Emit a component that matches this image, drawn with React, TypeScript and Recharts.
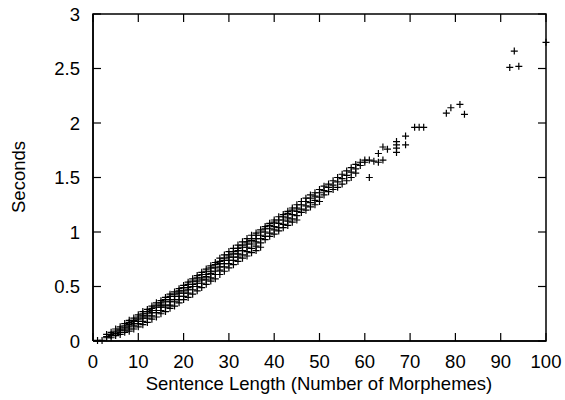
import { ScatterChart, Scatter, XAxis, YAxis } from 'recharts'

// sentence length (morphemes) vs. parse time (seconds)
const shortSentences: [number, number][] = [
  [1, 0.005], [2, 0.005],
  [3, 0.06], [3, 0.04], [3, 0.03],
  [4, 0.08], [4, 0.06], [4, 0.05], [4, 0.03],
  [5, 0.11], [5, 0.09], [5, 0.07], [5, 0.05],
  [6, 0.13], [6, 0.11], [6, 0.1], [6, 0.08], [6, 0.06],
  [7, 0.16], [7, 0.14], [7, 0.12], [7, 0.1], [7, 0.08],
  [8, 0.19], [8, 0.17], [8, 0.15], [8, 0.13], [8, 0.11], [8, 0.09],
  [9, 0.21], [9, 0.19], [9, 0.18], [9, 0.16], [9, 0.14], [9, 0.11],
  [10, 0.24], [10, 0.22], [10, 0.2], [10, 0.18], [10, 0.16], [10, 0.13],
  [11, 0.27], [11, 0.25], [11, 0.23], [11, 0.21], [11, 0.18], [11, 0.15],
  [12, 0.29], [12, 0.27], [12, 0.25], [12, 0.23], [12, 0.21], [12, 0.17],
  [13, 0.32], [13, 0.3], [13, 0.28], [13, 0.26], [13, 0.23], [13, 0.2],
  [14, 0.35], [14, 0.33], [14, 0.31], [14, 0.28], [14, 0.26], [14, 0.22],
  [15, 0.37], [15, 0.35], [15, 0.33], [15, 0.31], [15, 0.28], [15, 0.25],
]

const mediumSentences: [number, number][] = [
  [16, 0.4], [16, 0.38], [16, 0.36], [16, 0.33], [16, 0.31], [16, 0.27],
  [17, 0.43], [17, 0.41], [17, 0.38], [17, 0.36], [17, 0.33], [17, 0.3],
  [18, 0.45], [18, 0.43], [18, 0.41], [18, 0.38], [18, 0.36], [18, 0.32],
  [19, 0.48], [19, 0.46], [19, 0.44], [19, 0.41], [19, 0.38], [19, 0.35],
  [20, 0.51], [20, 0.49], [20, 0.46], [20, 0.44], [20, 0.41], [20, 0.38],
  [21, 0.54], [21, 0.52], [21, 0.49], [21, 0.47], [21, 0.44], [21, 0.4],
  [22, 0.57], [22, 0.55], [22, 0.52], [22, 0.5], [22, 0.47], [22, 0.43],
  [23, 0.6], [23, 0.58], [23, 0.55], [23, 0.53], [23, 0.5], [23, 0.46],
  [24, 0.63], [24, 0.61], [24, 0.58], [24, 0.56], [24, 0.53], [24, 0.49],
  [25, 0.66], [25, 0.64], [25, 0.61], [25, 0.59], [25, 0.56], [25, 0.52],
  [26, 0.69], [26, 0.67], [26, 0.64], [26, 0.62], [26, 0.58], [26, 0.55],
  [27, 0.72], [27, 0.7], [27, 0.67], [27, 0.64], [27, 0.61], [27, 0.57],
  [28, 0.76], [28, 0.73], [28, 0.71], [28, 0.68], [28, 0.65], [28, 0.61],
  [29, 0.79], [29, 0.76], [29, 0.74], [29, 0.71], [29, 0.68], [29, 0.64],
  [30, 0.82], [30, 0.79], [30, 0.77], [30, 0.74], [30, 0.71], [30, 0.67],
]

const longSentences: [number, number][] = [
  [31, 0.85], [31, 0.82], [31, 0.8], [31, 0.77], [31, 0.74], [31, 0.7],
  [32, 0.88], [32, 0.85], [32, 0.83], [32, 0.8], [32, 0.77], [32, 0.73],
  [33, 0.91], [33, 0.88], [33, 0.86], [33, 0.83], [33, 0.79], [33, 0.76],
  [34, 0.94], [34, 0.91], [34, 0.89], [34, 0.86], [34, 0.82], [34, 0.78],
  [35, 0.97], [35, 0.94], [35, 0.92], [35, 0.89], [35, 0.85], [35, 0.81],
  [36, 0.99], [36, 0.97], [36, 0.94], [36, 0.91], [36, 0.87], [36, 0.83],
  [37, 1.02], [37, 1.0], [37, 0.97], [37, 0.94], [37, 0.9], [37, 0.86],
  [38, 1.05], [38, 1.03], [38, 1.0], [38, 0.96], [38, 0.93],
  [39, 1.08], [39, 1.06], [39, 1.03], [39, 0.99], [39, 0.96],
  [40, 1.11], [40, 1.09], [40, 1.05], [40, 1.02], [40, 0.98],
  [41, 1.14], [41, 1.11], [41, 1.08], [41, 1.04], [41, 1.01],
  [42, 1.16], [42, 1.14], [42, 1.11], [42, 1.07], [42, 1.04],
  [43, 1.19], [43, 1.17], [43, 1.13], [43, 1.1], [43, 1.06],
  [44, 1.22], [44, 1.2], [44, 1.16], [44, 1.12], [44, 1.09],
  [45, 1.25], [45, 1.22], [45, 1.19], [45, 1.15], [45, 1.11],
]

const veryLongSentences: [number, number][] = [
  [46, 1.28], [46, 1.25], [46, 1.21], [46, 1.18],
  [47, 1.31], [47, 1.28], [47, 1.24], [47, 1.2],
  [48, 1.34], [48, 1.31], [48, 1.27], [48, 1.23],
  [49, 1.36], [49, 1.33], [49, 1.29], [49, 1.25],
  [50, 1.39], [50, 1.36], [50, 1.32], [50, 1.28],
  [51, 1.42], [51, 1.38], [51, 1.34],
  [52, 1.44], [52, 1.41], [52, 1.37],
  [53, 1.47], [53, 1.43], [53, 1.39],
  [54, 1.5], [54, 1.46], [54, 1.41],
  [55, 1.53], [55, 1.49], [55, 1.44],
  [56, 1.56], [56, 1.52], [56, 1.47],
  [57, 1.59], [57, 1.55], [57, 1.5],
  [58, 1.62], [58, 1.58], [58, 1.54],
  [59, 1.64], [59, 1.61],
  [60, 1.66], [60, 1.64],
  [61, 1.66], [61, 1.5],
  [62, 1.65],
  [63, 1.72], [63, 1.64],
  [64, 1.78], [64, 1.66],
  [65, 1.76],
  [67, 1.83], [67, 1.8], [67, 1.77], [67, 1.73],
  [69, 1.88], [69, 1.8],
  [71, 1.96], [72, 1.96], [73, 1.96],
  [78, 2.09], [79, 2.14], [81, 2.17], [82, 2.08],
  [92, 2.51], [93, 2.66], [94, 2.52],
  [100, 2.74],
]

const xTicks = [0, 10, 20, 30, 40, 50, 60, 70, 80, 90, 100]
const yTicks = [0, 0.5, 1, 1.5, 2, 2.5, 3]
const xRange = [0, 100]
const yRange = [0, 3]

const points = [...shortSentences, ...mediumSentences, ...longSentences, ...veryLongSentences].map(
  ([length, seconds]) => ({ length, seconds })
)

// plot border (gnuplot style box) and mirrored inward tick marks, placed through the chart scales
const border = [
  { length: xRange[0], seconds: yRange[0] },
  { length: xRange[1], seconds: yRange[0] },
  { length: xRange[1], seconds: yRange[1] },
  { length: xRange[0], seconds: yRange[1] },
  { length: xRange[0], seconds: yRange[0] },
]
const bottomMarks = xTicks.map((length) => ({ length, seconds: yRange[0] }))
const topMarks = xTicks.map((length) => ({ length, seconds: yRange[1] }))
const leftMarks = yTicks.map((seconds) => ({ length: xRange[0], seconds }))
const rightMarks = yTicks.map((seconds) => ({ length: xRange[1], seconds }))

const font = '"Liberation Sans", Arial, Helvetica, sans-serif'
const fontSize = 18.5
const tickStyle = { fill: '#000', fontSize, fontFamily: font }
const TICK = 8

const Plus = (props: any) => {
  const { cx, cy } = props
  if (cx == null || cy == null) return null
  return <path d={`M${cx - 3.5},${cy}h7M${cx},${cy - 3.5}v7`} stroke="#000" strokeWidth={1.2} fill="none" />
}

const mark = (dx: number, dy: number) => (props: any) => {
  const { cx, cy } = props
  if (cx == null || cy == null) return null
  return <line x1={cx} y1={cy} x2={cx + dx} y2={cy + dy} stroke="#000" strokeWidth={1.2} />
}

const Nothing = () => null

export default function App() {
  return (
    <div style={{ position: 'absolute', left: 0, top: 0, width: 565, height: 400, background: '#fff' }}>
      <ScatterChart width={565} height={400} margin={{ top: 14, right: 19, bottom: 0, left: 0 }}>
        <XAxis
          dataKey="length"
          type="number"
          domain={xRange}
          ticks={xTicks}
          height={59}
          tickSize={0}
          tickMargin={14}
          axisLine={{ stroke: '#000', strokeWidth: 1.5 }}
          tickLine={false}
          tick={tickStyle}
        />
        <YAxis
          dataKey="seconds"
          type="number"
          domain={yRange}
          ticks={yTicks}
          width={93}
          tickSize={0}
          tickMargin={13}
          axisLine={{ stroke: '#000', strokeWidth: 1.5 }}
          tickLine={false}
          tick={tickStyle}
        />
        <Scatter
          data={border}
          line={{ stroke: '#000', strokeWidth: 1.5 }}
          lineType="joint"
          shape={<Nothing />}
          isAnimationActive={false}
        />
        <Scatter data={bottomMarks} shape={mark(0, -TICK)} isAnimationActive={false} />
        <Scatter data={topMarks} shape={mark(0, TICK)} isAnimationActive={false} />
        <Scatter data={leftMarks} shape={mark(TICK, 0)} isAnimationActive={false} />
        <Scatter data={rightMarks} shape={mark(-TICK, 0)} isAnimationActive={false} />
        <Scatter data={points} shape={<Plus />} isAnimationActive={false} />
      </ScatterChart>
      <svg
        width={565}
        height={400}
        style={{ position: 'absolute', left: 0, top: 0, pointerEvents: 'none' }}
      >
        <text x={319} y={390} textAnchor="middle" fill="#000" fontSize={fontSize} fontFamily={font}>
          Sentence Length (Number of Morphemes)
        </text>
        <text
          x={25}
          y={177}
          transform="rotate(-90 25 177)"
          textAnchor="middle"
          fill="#000"
          fontSize={fontSize}
          fontFamily={font}
        >
          Seconds
        </text>
      </svg>
    </div>
  )
}
